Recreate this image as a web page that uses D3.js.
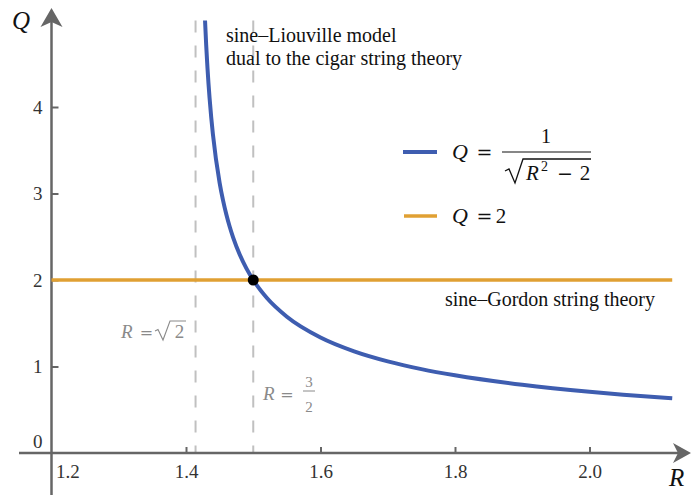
<!DOCTYPE html>
<html>
<head>
<meta charset="utf-8">
<script src="https://cdn.jsdelivr.net/npm/d3@7"></script>
<style>
  body { margin: 0; background: #fff; }
  svg { display: block; }
  text { font-family: "Liberation Serif", "DejaVu Serif", serif; }
  .sym { font-family: "DejaVu Serif", serif; }
</style>
</head>
<body>
<svg id="chart" width="691" height="495"></svg>
<script>
// ---- data ----
const curveR = [1.4283, 1.4300, 1.4315, 1.4320, 1.4350, 1.4375, 1.4400, 1.4500, 1.4550, 1.4600, 1.4650, 1.4700, 1.4800, 1.4900, 1.5000, 1.5200, 1.5500, 1.6000, 1.6500, 1.7000, 1.7500, 1.8000, 1.9000, 2.0000, 2.0500, 2.1230];
const curveQ = [5.000, 4.719, 4.509, 4.444, 4.109, 3.880, 3.686, 3.123, 2.923, 2.757, 2.615, 2.493, 2.292, 2.132, 2.000, 1.795, 1.576, 1.336, 1.176, 1.060, 0.970, 0.898, 0.788, 0.707, 0.674, 0.632];
const constR = [1.2, 2.123];
const constQ = [2, 2];
const xTicks = [1.2, 1.4, 1.6, 1.8, 2.0];
const xTickLabels = ["1.2", "1.4", "1.6", "1.8", "2.0"];
const yTicks = [0, 1, 2, 3, 4];
const yTickLabels = ["0", "1", "2", "3", "4"];
const markerR = [Math.SQRT2, 1.5];
const pointR = [1.5];
const pointQ = [2];

const BLUE = "#3e5db0", ORANGE = "#e0a033", AXIS = "#666666", DASH = "#c0c0c0", GRAY = "#8a8a8a";
const SERIF = "'Liberation Serif', 'DejaVu Serif', serif";

const svg = d3.select("#chart");
const x = d3.scaleLinear().domain([1.2, 2.0]).range([51.5, 589.5]);
const y = d3.scaleLinear().domain([0, 4]).range([453, 107]);
const xLeft = x.invert(19), xRight = x.invert(691);
const yBottom = y.invert(495), yTop = y.invert(8);

// dashed vertical markers
svg.selectAll(".vmark").data(markerR).join("line")
  .attr("x1", d => x(d)).attr("x2", d => x(d))
  .attr("y1", y(5)).attr("y2", y(0))
  .attr("stroke", DASH).attr("stroke-width", 2).attr("stroke-dasharray", "12,13");

// axes with ticks
const xAxis = d3.axisBottom(x).tickValues(xTicks)
  .tickFormat((d, i) => xTickLabels[i]).tickSizeInner(-6).tickSizeOuter(0).tickPadding(12);
const gx = svg.append("g").attr("transform", `translate(0,${y(0)})`).call(xAxis)
  .attr("font-family", SERIF).attr("font-size", 19);
gx.select(".domain").remove();
gx.selectAll(".tick line").attr("stroke", AXIS).attr("stroke-width", 2);
gx.selectAll(".tick text").attr("fill", "#333");
gx.selectAll(".tick").filter(d => d === 1.2).select("text")
  .attr("text-anchor", "start").attr("x", 4);
gx.selectAll(".tick").filter(d => d === 1.2).select("line").remove();

const yAxis = d3.axisLeft(y).tickValues(yTicks)
  .tickFormat((d, i) => yTickLabels[i]).tickSizeInner(-7).tickSizeOuter(0).tickPadding(9);
const gy = svg.append("g").attr("transform", `translate(${x(1.2)},0)`).call(yAxis)
  .attr("font-family", SERIF).attr("font-size", 19);
gy.select(".domain").remove();
gy.selectAll(".tick line").attr("stroke", AXIS).attr("stroke-width", 2);
gy.selectAll(".tick text").attr("fill", "#333");
gy.selectAll(".tick").filter(d => d === 0).select("text").attr("dy", "-0.3em");
gy.selectAll(".tick").filter(d => d === 0).select("line").remove();

// axis lines
svg.append("line").attr("x1", x(xLeft)).attr("x2", x(xRight) - 10)
  .attr("y1", y(0)).attr("y2", y(0)).attr("stroke", AXIS).attr("stroke-width", 2.5);
svg.append("line").attr("x1", x(1.2)).attr("x2", x(1.2))
  .attr("y1", y(yBottom)).attr("y2", y(yTop) + 10).attr("stroke", AXIS).attr("stroke-width", 2.5);
// arrowheads
const ax = x(xRight), ay = y(0);
svg.append("path").attr("fill", AXIS)
  .attr("d", `M${ax},${ay} L${ax - 18},${ay - 10} L${ax - 13},${ay} L${ax - 18},${ay + 10} Z`);
const bx = x(1.2), by = y(yTop);
svg.append("path").attr("fill", AXIS)
  .attr("d", `M${bx},${by} L${bx - 11},${by + 19} L${bx},${by + 14} L${bx + 11},${by + 19} Z`);

// axis titles
svg.append("text").attr("x", 12).attr("y", 29).attr("font-style", "italic")
  .style("font-size", "25px").attr("fill", "#111").text("Q");
svg.append("text").attr("x", 669).attr("y", 486).attr("font-style", "italic")
  .style("font-size", "25px").attr("fill", "#111").text("R");

// constant line Q = 2
const line = d3.line().x(d => x(d[0])).y(d => y(d[1]));
svg.append("path").datum(constR.map((r, i) => [r, constQ[i]]))
  .attr("d", line).attr("fill", "none").attr("stroke", ORANGE).attr("stroke-width", 3.5);

// curve
svg.append("path").datum(curveR.map((r, i) => [r, curveQ[i]]))
  .attr("d", line.curve(d3.curveMonotoneX)).attr("fill", "none")
  .attr("stroke", BLUE).attr("stroke-width", 4);

// intersection point
svg.selectAll(".pt").data(pointR).join("circle")
  .attr("cx", d => x(d)).attr("cy", (d, i) => y(pointQ[i])).attr("r", 5.5).attr("fill", "#000");

// annotations
const ann = svg.append("g").attr("fill", "#111").style("font-size", "20px");
ann.append("text").attr("x", 226).attr("y", 42).text("sine–Liouville model");
ann.append("text").attr("x", 226).attr("y", 65).text("dual to the cigar string theory");
ann.append("text").attr("x", 445).attr("y", 306).text("sine–Gordon string theory");

// R = sqrt(2) label
const g1 = svg.append("g").attr("fill", GRAY).style("font-size", "19px");
g1.append("text").attr("x", 121).attr("y", 338).attr("font-style", "italic").text("R");
g1.append("text").attr("class", "sym").attr("x", 146.5).attr("y", 338).attr("text-anchor", "middle").style("font-size", "16px").text("=");
g1.append("path").attr("fill", "none").attr("stroke", GRAY).attr("stroke-width", 1.1)
  .attr("d", "M155,331 L158,329.5 L163,340 L170,321 L186,321");
g1.append("text").attr("x", 179.5).attr("y", 338).attr("text-anchor", "middle").text("2");

// R = 3/2 label
const g2 = svg.append("g").attr("fill", GRAY).style("font-size", "19px");
g2.append("text").attr("x", 263).attr("y", 400).attr("font-style", "italic").text("R");
g2.append("text").attr("class", "sym").attr("x", 287).attr("y", 400).attr("text-anchor", "middle").style("font-size", "16px").text("=");
g2.append("text").attr("x", 309).attr("y", 387).attr("text-anchor", "middle").style("font-size", "15px").text("3");
g2.append("line").attr("x1", 303).attr("x2", 315).attr("y1", 391).attr("y2", 391)
  .attr("stroke", GRAY).attr("stroke-width", 1);
g2.append("text").attr("x", 309).attr("y", 412).attr("text-anchor", "middle").style("font-size", "15px").text("2");

// legend
const lg = svg.append("g").attr("fill", "#111");
lg.append("line").attr("x1", 403).attr("x2", 437).attr("y1", 152).attr("y2", 152)
  .attr("stroke", BLUE).attr("stroke-width", 4);
lg.append("text").attr("x", 452).attr("y", 159).attr("font-style", "italic").style("font-size", "22px").text("Q");
lg.append("text").attr("class", "sym").attr("x", 484.5).attr("y", 159).attr("text-anchor", "middle").style("font-size", "19px").text("=");
lg.append("text").attr("x", 546).attr("y", 143).attr("text-anchor", "middle").style("font-size", "20px").text("1");
lg.append("line").attr("x1", 502).attr("x2", 591).attr("y1", 152).attr("y2", 152)
  .attr("stroke", "#111").attr("stroke-width", 1.2);
lg.append("path").attr("fill", "none").attr("stroke", "#111").attr("stroke-width", 1.3)
  .attr("d", "M505,171 L509,169 L515,183 L523,159 L591,159");
lg.append("text").attr("x", 526).attr("y", 180).attr("font-style", "italic").style("font-size", "21px").text("R");
lg.append("text").attr("x", 541).attr("y", 171).style("font-size", "14px").text("2");
lg.append("text").attr("class", "sym").attr("x", 565).attr("y", 180).attr("text-anchor", "middle").style("font-size", "19px").text("−");
lg.append("text").attr("x", 585).attr("y", 180).attr("text-anchor", "middle").style("font-size", "21px").text("2");

lg.append("line").attr("x1", 404).attr("x2", 437).attr("y1", 216).attr("y2", 216)
  .attr("stroke", ORANGE).attr("stroke-width", 3.5);
lg.append("text").attr("x", 452).attr("y", 223).attr("font-style", "italic").style("font-size", "22px").text("Q");
lg.append("text").attr("class", "sym").attr("x", 484.5).attr("y", 223).attr("text-anchor", "middle").style("font-size", "19px").text("=");
lg.append("text").attr("x", 501).attr("y", 223).attr("text-anchor", "middle").style("font-size", "21px").text("2");
</script>
</body>
</html>
